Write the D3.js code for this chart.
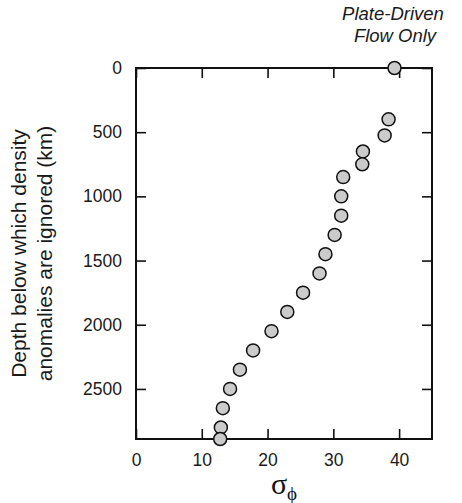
<!DOCTYPE html>
<meta charset="utf-8">
<style>

html, body {
  margin: 0;
  background: #fff;
  font: 18px Arial, "Liberation Sans", sans-serif;
}

svg {
  display: block;
}

.axis text {
  font: 17.5px Arial, "Liberation Sans", sans-serif;
  fill: #1a1a1a;
}

.axis line {
  stroke: #111;
  stroke-width: 1.6px;
}

.frame {
  fill: none;
  stroke: #111;
  stroke-width: 2px;
}

.dots circle {
  fill: #cbcbcb;
  stroke: #111;
  stroke-width: 1.5px;
}

</style>
<svg class="chart"></svg>
<script src="https://cdnjs.cloudflare.com/ajax/libs/d3/7.8.5/d3.min.js"></script>
<script>

var width = 462;
var height = 503;

// depth (km) below which density anomalies are ignored, and sigma_phi
var depths = [0, 400, 525, 650, 750, 850, 1000, 1150, 1300, 1450, 1600, 1750, 1900, 2050, 2200, 2350, 2500, 2650, 2800, 2890];
var sigmaPhi = [39.3, 38.4, 37.8, 34.5, 34.4, 31.5, 31.2, 31.2, 30.2, 28.8, 27.9, 25.4, 23.0, 20.6, 17.8, 15.8, 14.3, 13.2, 12.9, 12.8];

var xTicks = [0, 10, 20, 30, 40];
var yTicks = [0, 500, 1000, 1500, 2000, 2500];

var plot = {left: 136, right: 432, top: 68, bottom: 439};

var svg = d3.select('svg.chart')
  .attr('width', width)
  .attr('height', height);

var x = d3.scaleLinear()
  .domain([0, 45])
  .range([plot.left, plot.right]);

var y = d3.scaleLinear()
  .domain([0, 2890])
  .range([plot.top, plot.bottom]);

// inward ticks on all four sides, labels only left and bottom
svg.append('g')
  .attr('class', 'axis')
  .attr('transform', 'translate(0,' + plot.bottom + ')')
  .call(d3.axisBottom(x).tickValues(xTicks).tickSize(-10).tickPadding(15))
  .call(function (g) { g.select('.domain').remove(); });

svg.append('g')
  .attr('class', 'axis')
  .attr('transform', 'translate(0,' + plot.top + ')')
  .call(d3.axisTop(x).tickValues(xTicks).tickSize(-10).tickFormat(''))
  .call(function (g) { g.select('.domain').remove(); });

svg.append('g')
  .attr('class', 'axis')
  .attr('transform', 'translate(' + plot.left + ',0)')
  .call(d3.axisLeft(y).tickValues(yTicks).tickSize(-10).tickPadding(14).tickFormat(d3.format('d')))
  .call(function (g) { g.select('.domain').remove(); });

svg.append('g')
  .attr('class', 'axis')
  .attr('transform', 'translate(' + plot.right + ',0)')
  .call(d3.axisRight(y).tickValues(yTicks).tickSize(-10).tickFormat(''))
  .call(function (g) { g.select('.domain').remove(); });

svg.append('rect')
  .attr('class', 'frame')
  .attr('x', plot.left)
  .attr('y', plot.top)
  .attr('width', plot.right - plot.left)
  .attr('height', plot.bottom - plot.top);

svg.append('g')
  .attr('class', 'dots')
  .selectAll('circle')
  .data(depths)
  .enter().append('circle')
  .attr('cx', function (d, i) { return x(sigmaPhi[i]); })
  .attr('cy', function (d) { return y(d); })
  .attr('r', 6.5);

// y axis title, two lines
var yTitle = svg.append('text')
  .attr('transform', 'translate(0,' + (plot.top + plot.bottom) / 2 + ') rotate(-90)')
  .attr('text-anchor', 'middle')
  .style('font-size', '21px')
  .style('fill', '#1a1a1a');

yTitle.append('tspan').attr('x', 0).attr('y', 26).text('Depth below which density');
yTitle.append('tspan').attr('x', 0).attr('y', 52).text('anomalies are ignored (km)');

// x axis title: sigma with phi subscript
var xTitle = svg.append('text')
  .attr('x', (plot.left + plot.right) / 2)
  .attr('y', 494)
  .attr('text-anchor', 'middle')
  .style('font-family', '"Liberation Serif", "DejaVu Serif", serif')
  .style('fill', '#111');

xTitle.append('tspan').style('font-size', '30px').text('σ');
xTitle.append('tspan').attr('dy', 6).style('font-size', '19px').text('ϕ');

// annotation for the depth-0 point
var note = svg.append('text')
  .attr('text-anchor', 'middle')
  .style('font-style', 'italic')
  .style('font-size', '18.5px')
  .style('fill', '#1a1a1a');

note.append('tspan').attr('x', 393).attr('y', 20).text('Plate-Driven');
note.append('tspan').attr('x', 395).attr('y', 42).text('Flow Only');

</script>
